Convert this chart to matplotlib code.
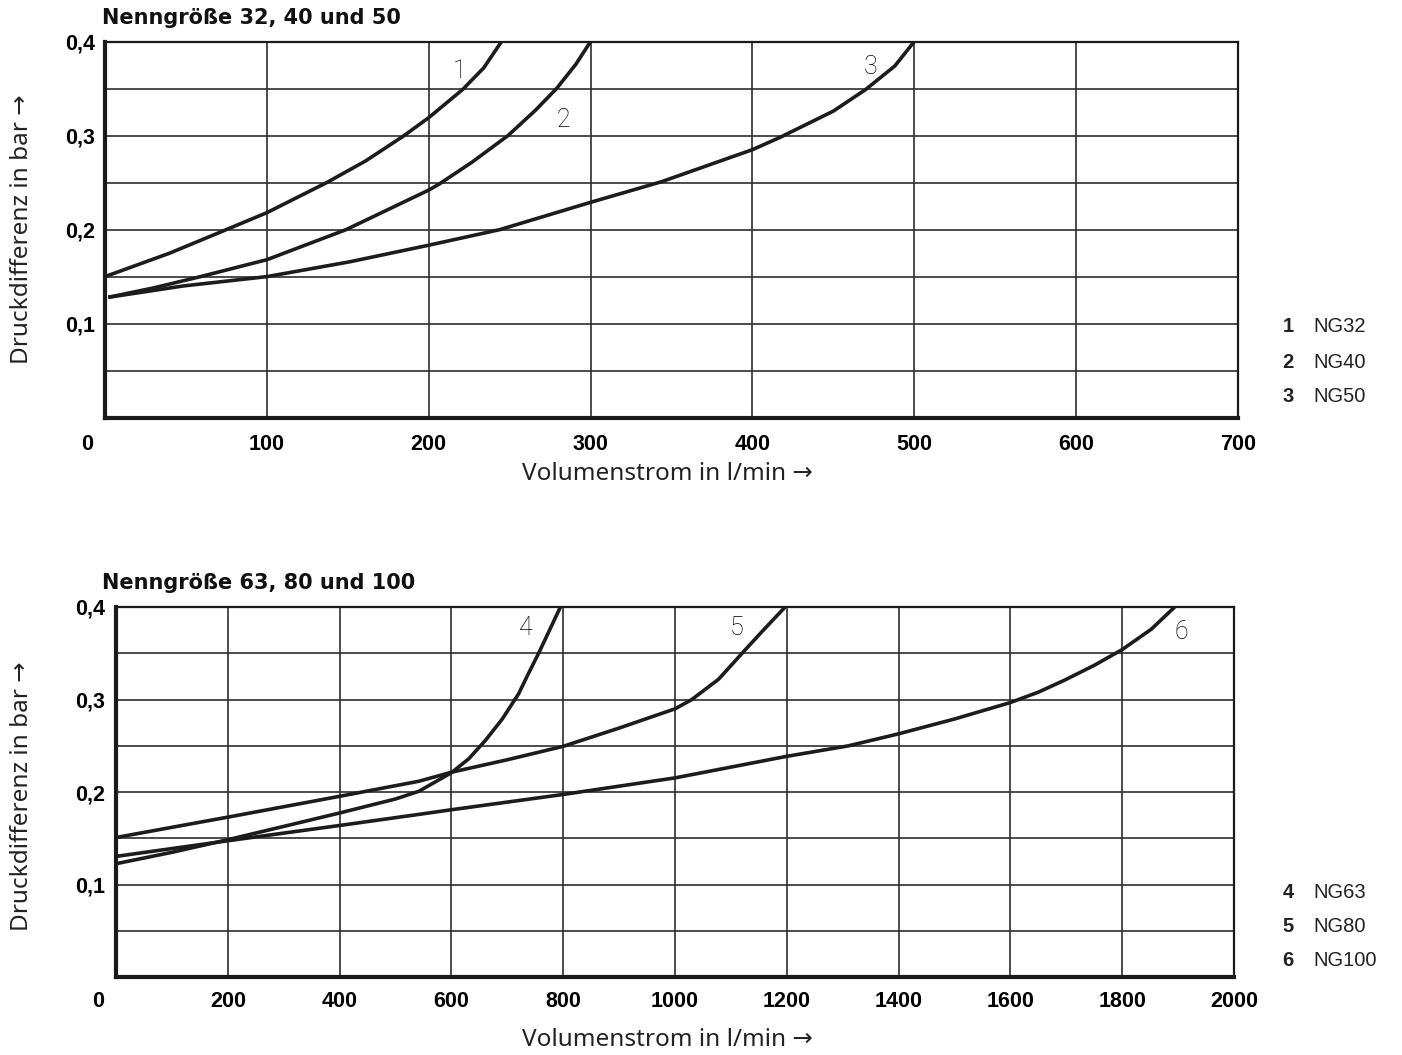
import numpy as np
import matplotlib
import matplotlib.pyplot as plt

plt.rcParams['font.family'] = ['Liberation Sans', 'DejaVu Sans']
plex_like = ['Noto Sans', 'DejaVu Sans']

## Data (Volumenstrom in l/min, Druckdifferenz in bar)
ng32_x = [0, 40, 75, 100, 137, 161, 184, 200, 221, 234, 245]
ng32_y = [0.150, 0.175, 0.200, 0.218, 0.250, 0.273, 0.299, 0.319, 0.349, 0.372, 0.400]

ng40_x = [2, 30, 59, 100, 149, 200, 207, 227, 249, 266, 279, 291, 300]
ng40_y = [0.128, 0.138, 0.150, 0.168, 0.200, 0.242, 0.249, 0.272, 0.300, 0.327,
          0.350, 0.376, 0.400]

ng50_x = [2, 48, 100, 151, 200, 244, 300, 344, 400, 417, 450, 470, 488, 500]
ng50_y = [0.128, 0.140, 0.150, 0.1657, 0.1834, 0.200, 0.229, 0.251, 0.285, 0.298,
          0.326, 0.349, 0.374, 0.400]

ng63_x = [0, 100, 200, 300, 400, 500, 542, 600, 631, 661, 691, 720, 738, 756,
          774, 795]
ng63_y = [0.1227, 0.135, 0.1486, 0.163, 0.1775, 0.1926, 0.201, 0.221, 0.236,
          0.256, 0.279, 0.306, 0.3283, 0.350, 0.373, 0.400]

ng80_x = [0, 200, 400, 542, 600, 700, 800, 899, 1000, 1030, 1078, 1120, 1155, 1197]
ng80_y = [0.151, 0.173, 0.1955, 0.2118, 0.2215, 0.235, 0.2495, 0.269, 0.290,
          0.300, 0.322, 0.350, 0.373, 0.400]

ng100_x = [0, 200, 400, 542, 600, 800, 1000, 1200, 1310, 1400, 1500, 1600,
           1650, 1697, 1750, 1800, 1852, 1894]
ng100_y = [0.1306, 0.1475, 0.164, 0.176, 0.181, 0.1975, 0.2154, 0.2387, 0.250,
           0.263, 0.279, 0.2968, 0.308, 0.321, 0.337, 0.354, 0.376, 0.400]

# curve numbers and where they sit
top_nums = ['1', '2', '3']
top_num_pos = [(219, 0.369), (283, 0.317), (473, 0.373)]
bot_nums = ['4', '5', '6']
bot_num_pos = [(734, 0.377), (1111, 0.377), (1905, 0.373)]

top_legend = [('1', 'NG32'), ('2', 'NG40'), ('3', 'NG50')]
bot_legend = [('4', 'NG63'), ('5', 'NG80'), ('6', 'NG100')]

y_ticks = [0.1, 0.2, 0.3, 0.4]
y_ticklabels = ['0,1', '0,2', '0,3', '0,4']

W, H = 1402, 1055
fig = plt.figure(figsize=(W/100, H/100), dpi=100)

curve_c = '#1c1c1c'
grid_c = '#2e2e2e'
text_c = '#222222'

def setup(ax, xmax, xstep, title, title_dx, xpad, ypad):
	ax.set_xlim(0, xmax)
	ax.set_ylim(0, 0.4)
	ax.set_xticks(np.arange(xstep, xmax + 1, xstep))
	ax.set_xticklabels([str(v) for v in range(xstep, xmax + 1, xstep)],
		fontsize=15.5, fontweight='bold')
	ax.set_yticks(y_ticks)
	ax.set_yticklabels(y_ticklabels, fontsize=15.5, fontweight='bold')
	ax.set_yticks(np.arange(0.05, 0.4, 0.1), minor=True)
	ax.tick_params(axis='both', which='both', length=0)
	ax.tick_params(axis='x', pad=xpad)
	ax.tick_params(axis='y', pad=ypad)
	ax.grid(True, which='both', color=grid_c, lw=1.2)
	ax.set_axisbelow(True)
	for s in ['left', 'bottom']:
		ax.spines[s].set_linewidth(3.0)
	for s in ['top', 'right']:
		ax.spines[s].set_linewidth(1.6)
	for s in ax.spines.values():
		s.set_color('#1a1a1a')
	# the "0" at the origin sits a little left of the axis
	ax.annotate('0', xy=(0, 0), xycoords='axes fraction',
		xytext=(-13, -xpad), textcoords='offset points',
		ha='center', va='top', fontsize=15.5, fontweight='bold')
	ax.annotate(title, xy=(0, 1), xycoords='axes fraction',
		xytext=(title_dx, 17), textcoords='offset points',
		ha='left', va='center', fontsize=15, fontweight='bold',
		family='DejaVu Sans', color='#111111')

def numbers(ax, nums, pos):
	for n, (x, y) in zip(nums, pos):
		ax.text(x, y, n, fontsize=18, fontfamily='Roboto', fontweight='light',
			ha='center', va='center', color='#000000')

## Upper chart
ax1 = fig.add_axes([105/W, 1 - 417.7/H, 1133/W, 376.2/H])
setup(ax1, 700, 100, 'Nenngröße 32, 40 und 50', -2, 11.5, 7)
for x, y in [(ng32_x, ng32_y), (ng40_x, ng40_y), (ng50_x, ng50_y)]:
	ax1.plot(x, y, color=curve_c, lw=2.6, solid_capstyle='butt',
		solid_joinstyle='round')
numbers(ax1, top_nums, top_num_pos)

## Lower chart
ax2 = fig.add_axes([116/W, 1 - 977.3/H, 1118/W, 370.3/H])
setup(ax2, 2000, 200, 'Nenngröße 63, 80 und 100', -10, 10, 8)
for x, y in [(ng63_x, ng63_y), (ng80_x, ng80_y), (ng100_x, ng100_y)]:
	ax2.plot(x, y, color=curve_c, lw=2.6, solid_capstyle='butt',
		solid_joinstyle='round')
numbers(ax2, bot_nums, bot_num_pos)

## Axis titles
for yc in [229, 796]:
	fig.text(22/W, 1 - yc/H, 'Druckdifferenz in bar →', rotation=90,
		ha='center', va='center', fontsize=17.5, color=text_c, family=plex_like)
for yc in [474, 1040]:
	fig.text(667/W, 1 - yc/H, 'Volumenstrom in l/min →',
		ha='center', va='center', fontsize=17.5, color=text_c, family=plex_like)

## Key on the right
for items, ys in [(top_legend, [327, 362, 397]), (bot_legend, [893, 927, 961])]:
	for (num, name), yc in zip(items, ys):
		fig.text(1288/W, 1 - yc/H, num, ha='center', va='center',
			fontsize=14.5, fontweight='bold', color=text_c)
		fig.text(1313/W, 1 - yc/H, name, ha='left', va='center',
			fontsize=14.5, color=text_c)

fig.savefig('out.png', dpi=100, facecolor='white')
